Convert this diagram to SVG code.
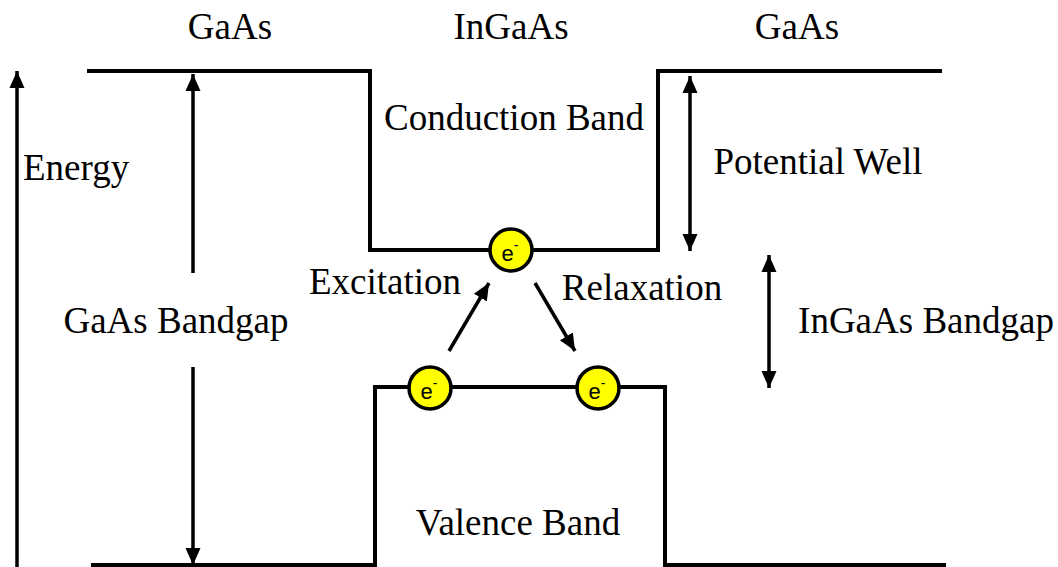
<svg xmlns="http://www.w3.org/2000/svg" width="1058" height="567" viewBox="0 0 1058 567">
<style>
.band{fill:none;stroke:#000;stroke-width:4}
.arr{fill:none;stroke:#000;stroke-width:3.5}
.lbl{font-family:"Liberation Serif",serif;font-size:37px;fill:#000}
.el circle{fill:#ffff00;stroke:#000;stroke-width:3.5}
.el text{font-family:"Liberation Sans","DejaVu Sans",sans-serif;font-size:22px;fill:#000}
</style>
<defs>
<marker id="ah" markerUnits="userSpaceOnUse" markerWidth="18" markerHeight="18" viewBox="0 0 18 18" refX="17" refY="9" orient="auto-start-reverse">
<path d="M0,1.5 L17,9 L0,16.5 Z" fill="#000"/>
</marker>
</defs>
<g id="bands">
<path class="band" d="M87,71 H370 V250 H658 V71 H942"/>
<path class="band" d="M91,565 H375 V387 H665 V565 H946"/>
</g>
<g id="connectors">
<line class="arr" x1="17" y1="567" x2="17" y2="71" marker-end="url(#ah)"/>
<line class="arr" x1="193" y1="273" x2="193" y2="74" marker-end="url(#ah)"/>
<line class="arr" x1="193" y1="367" x2="193" y2="565" marker-end="url(#ah)"/>
<line class="arr" x1="690" y1="76" x2="690" y2="251" marker-start="url(#ah)" marker-end="url(#ah)"/>
<line class="arr" x1="769" y1="255" x2="769" y2="388" marker-start="url(#ah)" marker-end="url(#ah)"/>
<line class="arr" x1="449" y1="351" x2="489" y2="283" marker-end="url(#ah)"/>
<line class="arr" x1="535" y1="283" x2="575" y2="351" marker-end="url(#ah)"/>
</g>
<g id="labels">
<text class="lbl" x="230" y="39" text-anchor="middle">GaAs</text>
<text class="lbl" x="511" y="39" text-anchor="middle">InGaAs</text>
<text class="lbl" x="797" y="39" text-anchor="middle">GaAs</text>
<text class="lbl" x="23" y="180">Energy</text>
<text class="lbl" x="514" y="130" text-anchor="middle">Conduction Band</text>
<text class="lbl" x="818" y="174" text-anchor="middle">Potential Well</text>
<text class="lbl" x="385" y="294" text-anchor="middle">Excitation</text>
<text class="lbl" x="642" y="300" text-anchor="middle">Relaxation</text>
<text class="lbl" x="176" y="333" text-anchor="middle">GaAs Bandgap</text>
<text class="lbl" x="926" y="333" text-anchor="middle">InGaAs Bandgap</text>
<text class="lbl" x="518" y="535" text-anchor="middle">Valence Band</text>
</g>
<g id="electron-top" class="el">
<circle cx="511" cy="250" r="21"/>
<text x="510" y="261" text-anchor="middle">e<tspan dy="-11" font-size="14">-</tspan></text>
</g>
<g id="electron-left" class="el">
<circle cx="430" cy="388" r="21"/>
<text x="429" y="399" text-anchor="middle">e<tspan dy="-11" font-size="14">-</tspan></text>
</g>
<g id="electron-right" class="el">
<circle cx="598" cy="388" r="21"/>
<text x="597" y="399" text-anchor="middle">e<tspan dy="-11" font-size="14">-</tspan></text>
</g>
</svg>
